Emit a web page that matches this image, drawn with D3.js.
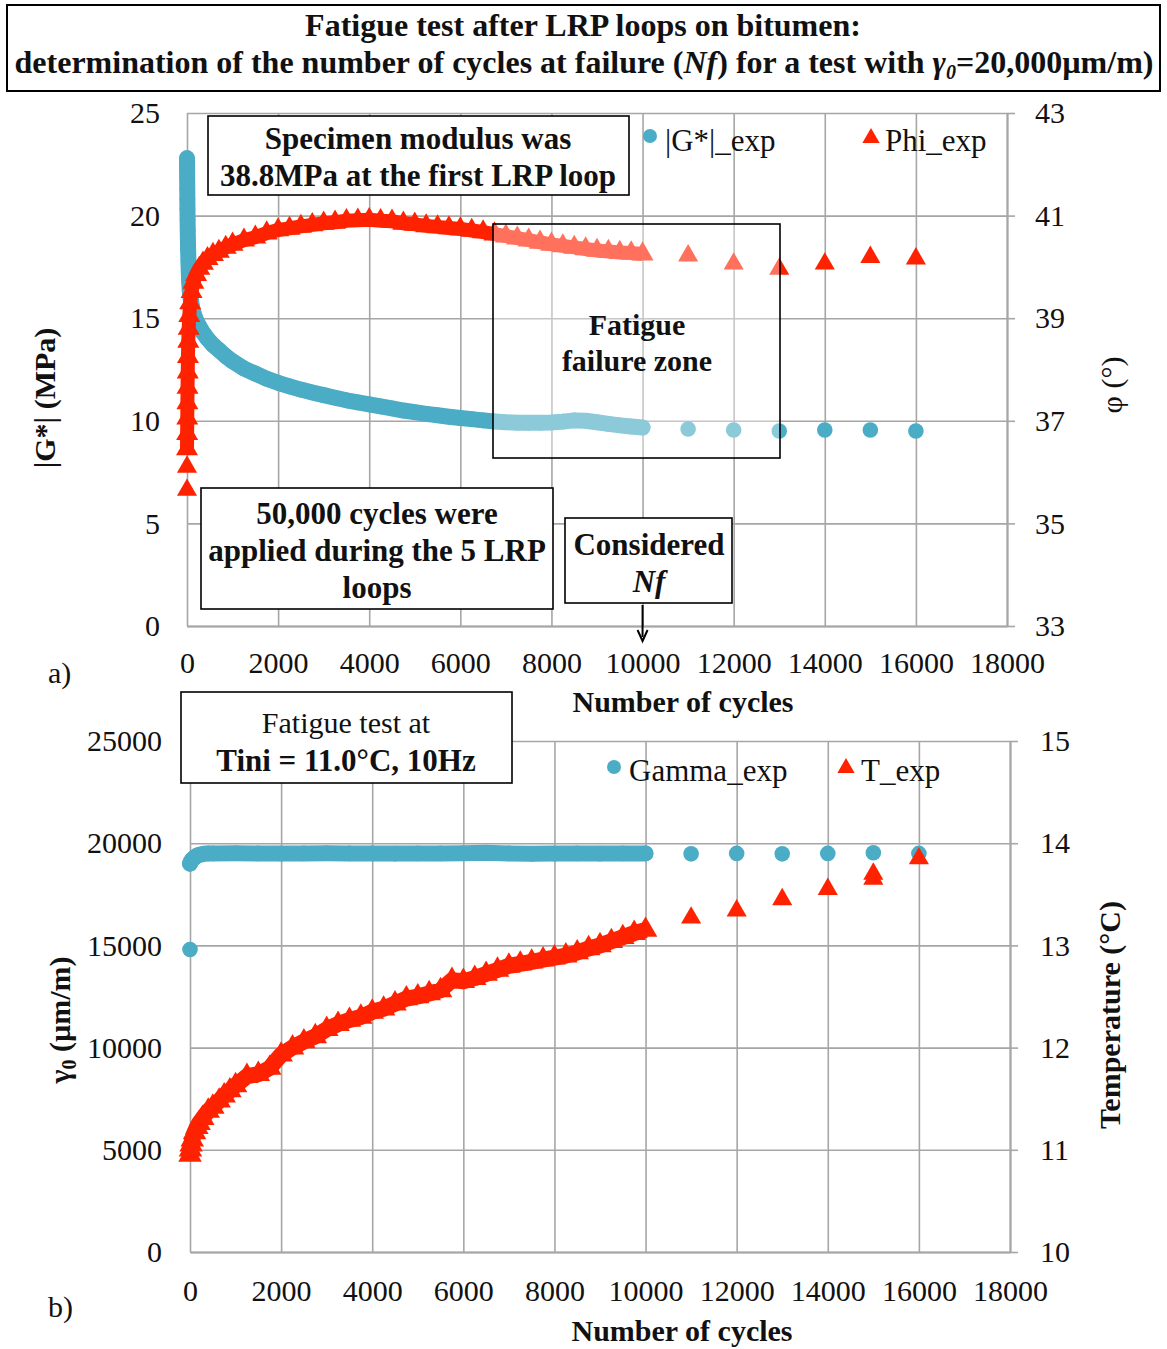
<!DOCTYPE html>
<html><head><meta charset="utf-8">
<script src="https://cdn.jsdelivr.net/npm/d3@7"></script>
<style>
body{margin:0;background:#fff}
svg{display:block}
text{font-family:"Liberation Serif","Times New Roman",serif;fill:#111}
</style>
</head><body>
<svg id="chart" width="1167" height="1349"></svg>
<script>
// ---------------- DATA ----------------
const xTicks = [0,2000,4000,6000,8000,10000,12000,14000,16000,18000];
const gTicks = [0,5,10,15,20,25];
const phiTicks = [33,35,37,39,41,43];
const gammaTicks = [0,5000,10000,15000,20000,25000];
const tempTicks = [10,11,12,13,14,15];

// (a) |G*| (MPa), dense recording up to Nf
const gCycles = [0,2,4,6,8,10,13,16,20,25,31,38,47,60,80,110,150,200,270,350,450,570,700,850,1000,1250,1500,1750,2000,2250,2500,2750,3000,3250,3500,3750,4000,4250,4500,4750,5000,5250,5500,5750,6000,6250,6500,6750,7000,7250,7500,7750,8000,8250,8500,8750,9000,9250,9500,9750,10000];
const gValues = [22.8,22.3,21.8,21.3,20.8,20.3,19.8,19.3,18.8,18.3,17.8,17.3,16.8,16.35,15.95,15.55,15.2,14.9,14.6,14.3,14.0,13.7,13.45,13.15,12.9,12.55,12.3,12.05,11.85,11.68,11.52,11.38,11.25,11.12,11.0,10.9,10.8,10.7,10.6,10.5,10.42,10.34,10.27,10.2,10.14,10.08,10.02,9.97,9.93,9.91,9.9,9.9,9.92,9.96,10.02,10.0,9.93,9.85,9.78,9.72,9.67];
// (a) |G*| sparse points after Nf
const gSparseCycles = [11000,12000,13000,14000,15000,16000];
const gSparseValues = [9.6,9.55,9.5,9.55,9.55,9.5];

// (a) Phi (deg), dense
const phiCycles = [0,3,6,9,12,16,21,28,37,50,70,100,140,200,270,350,450,570,700,850,1000,1250,1500,1750,2000,2250,2500,2750,3000,3250,3500,3750,4000,4250,4500,4750,5000,5250,5500,5750,6000,6250,6500,6750,7000,7250,7500,7750,8000,8250,8500,8750,9000,9250,9500,9750,10000];
const phiValues = [36.45,36.75,37.05,37.35,37.65,37.95,38.25,38.55,38.8,39.05,39.3,39.52,39.7,39.85,39.97,40.07,40.16,40.24,40.3,40.38,40.44,40.52,40.58,40.66,40.72,40.75,40.79,40.82,40.85,40.87,40.9,40.91,40.92,40.9,40.89,40.85,40.83,40.8,40.78,40.76,40.74,40.71,40.68,40.64,40.6,40.56,40.52,40.48,40.44,40.41,40.38,40.35,40.32,40.3,40.28,40.27,40.25];
const phiSparseCycles = [0,0,11000,12000,13000,14000,15000,16000];
const phiSparseValues = [36.1,35.65,40.22,40.06,39.96,40.06,40.19,40.16];

// (b) Gamma (µm/m), dense
const gammaCycles = [0,20,50,100,150,200,300,400,500,1000,1500,2000,2500,3000,3500,4000,4500,5000,5500,6000,6500,7000,7500,8000,8500,9000,9500,10000];
const gammaValues = [19000,19100,19200,19300,19380,19430,19480,19500,19500,19510,19500,19490,19500,19510,19500,19500,19490,19500,19500,19510,19530,19500,19480,19490,19500,19490,19500,19500];
const gammaSparseCycles = [0,11000,12000,13000,14000,15000,16000];
const gammaSparseValues = [14800,19480,19500,19480,19500,19530,19500];

// (b) Temperature (°C), dense
const tCycles = [0,10,25,50,100,150,200,280,400,500,640,750,875,1000,1250,1500,1750,2000,2250,2500,2750,3000,3250,3500,3750,4000,4250,4500,4750,5000,5250,5500,5750,6000,6250,6500,6750,7000,7250,7500,7750,8000,8250,8500,8750,9000,9250,9500,9750,10000];
const tValues = [10.95,11.0,11.05,11.1,11.17,11.22,11.26,11.31,11.38,11.42,11.48,11.53,11.58,11.63,11.72,11.74,11.8,11.93,12.0,12.06,12.11,12.18,12.23,12.27,12.3,12.35,12.38,12.43,12.48,12.5,12.53,12.56,12.66,12.65,12.68,12.72,12.76,12.8,12.82,12.84,12.86,12.88,12.9,12.93,12.97,13.0,13.04,13.08,13.12,13.15];
const tSparseCycles = [11000,12000,13000,14000,15000,15000,16000];
const tSparseValues = [13.27,13.34,13.45,13.55,13.65,13.7,13.85];

// ---------------- DRAWING ----------------
const BLUE = "#4BACC6", RED = "#FF2200", GRID = "#A6A6A6";
const svg = d3.select("#chart");

function makePanel(p) {
  const x = d3.scaleLinear().domain([0,18000]).range([p.x0,p.x1]);
  const yL = d3.scaleLinear().domain(p.leftDomain).range([p.yBot,p.yTop]);
  const yR = d3.scaleLinear().domain(p.rightDomain).range([p.yBot,p.yTop]);
  const g = svg.append("g");
  const la = g.append("g").attr("transform",`translate(${p.x0},0)`)
    .call(d3.axisLeft(yL).tickValues(p.leftTicks).tickSize(-(p.x1-p.x0)).tickPadding(p.leftPad).tickFormat(d3.format("d")));
  la.select(".domain").remove();
  const ba = g.append("g").attr("transform",`translate(0,${p.yBot})`)
    .call(d3.axisBottom(x).tickValues(xTicks).tickSize(-(p.yBot-p.yTop)).tickSizeOuter(0).tickPadding(p.bottomPad).tickFormat(d3.format("d")));
  const ra = g.append("g").attr("transform",`translate(${p.x1},0)`)
    .call(d3.axisRight(yR).tickValues(p.rightTicks).tickSize(8).tickSizeOuter(0).tickPadding(p.rightPad).tickFormat(d3.format("d")));
  [la,ba,ra].forEach(a=>{
    a.selectAll("line").attr("stroke",GRID).attr("stroke-width",1.6);
    a.selectAll(".domain").attr("stroke",GRID).attr("stroke-width",2);
    a.selectAll("text").attr("font-size",30).attr("fill","#111")
      .attr("font-family",'"Liberation Serif","Times New Roman",serif');
  });
  return {x,yL,yR,g};
}

function drawDense(g, x, y, cyc, val, color, shape, bandW, triSize) {
  const pts = d3.zip(cyc,val);
  g.append("path").datum(pts)
    .attr("d", d3.line().x(d=>x(d[0])).y(d=>y(d[1])))
    .attr("fill","none").attr("stroke",color).attr("stroke-width",bandW)
    .attr("stroke-linejoin","round").attr("stroke-linecap", shape==="circle"?"round":"butt");
  drawMarkers(g,x,y,cyc,val,color,shape,triSize);
}
function drawMarkers(g, x, y, cyc, val, color, shape, triSize) {
  const pts = d3.zip(cyc,val);
  if (shape==="circle") {
    g.selectAll(null).data(pts).enter().append("circle")
      .attr("cx",d=>x(d[0])).attr("cy",d=>y(d[1])).attr("r",7.8).attr("fill",color);
  } else {
    const sym = d3.symbol().type(d3.symbolTriangle).size(triSize || 170);
    g.selectAll(null).data(pts).enter().append("path")
      .attr("d",sym).attr("transform",d=>`translate(${x(d[0])},${y(d[1])})`).attr("fill",color);
  }
}

// ----- Title -----
svg.append("rect").attr("x",7).attr("y",5).attr("width",1153).attr("height",86)
  .attr("fill","#fff").attr("stroke","#000").attr("stroke-width",2);
svg.append("text").attr("x",583).attr("y",36).attr("text-anchor","middle")
  .attr("font-size",32).attr("font-weight","bold").text("Fatigue test after LRP loops on bitumen:");
const t2 = svg.append("text").attr("x",584).attr("y",73).attr("text-anchor","middle")
  .attr("font-size",32).attr("font-weight","bold");
t2.append("tspan").text("determination of the number of cycles at failure (");
t2.append("tspan").attr("font-style","italic").text("Nf");
t2.append("tspan").text(") for a test with ");
t2.append("tspan").attr("font-style","italic").text("γ");
t2.append("tspan").attr("font-style","italic").attr("font-size",20).attr("dy",6).text("0");
t2.append("tspan").attr("dy",-6).text("=20,000µm/m)");

// ----- Panel a -----
const A = makePanel({x0:187,x1:1007,yTop:113,yBot:626,leftDomain:[0,25],rightDomain:[33,43],
  leftTicks:gTicks,rightTicks:phiTicks,leftPad:27,bottomPad:26,rightPad:20});
drawDense(A.g, A.x, A.yL, gCycles, gValues, BLUE, "circle", 16);
drawMarkers(A.g, A.x, A.yL, gSparseCycles, gSparseValues, BLUE, "circle");
drawDense(A.g, A.x, A.yR, phiCycles, phiValues, RED, "triangle", 14, 210);
drawMarkers(A.g, A.x, A.yR, phiSparseCycles, phiSparseValues, RED, "triangle", 175);

// fatigue failure zone (semi-transparent box)
svg.append("rect").attr("x",493).attr("y",224).attr("width",287).attr("height",234)
  .attr("fill","#fff").attr("fill-opacity",0.36).attr("stroke","#000").attr("stroke-width",1.6);
svg.append("text").attr("x",637).attr("y",335).attr("text-anchor","middle").attr("font-size",30).attr("font-weight","bold").text("Fatigue");
svg.append("text").attr("x",637).attr("y",371).attr("text-anchor","middle").attr("font-size",30).attr("font-weight","bold").text("failure zone");

// annotation boxes
function box(x,y,w,h){ svg.append("rect").attr("x",x).attr("y",y).attr("width",w).attr("height",h).attr("fill","#fff").attr("stroke","#000").attr("stroke-width",1.6); }
box(208,116,421,79);
svg.append("text").attr("x",418).attr("y",149).attr("text-anchor","middle").attr("font-size",31).attr("font-weight","bold").text("Specimen modulus was");
svg.append("text").attr("x",418).attr("y",186).attr("text-anchor","middle").attr("font-size",31).attr("font-weight","bold").text("38.8MPa at the first LRP loop");

box(201,488,352,121);
[["50,000 cycles were",524],["applied during the 5 LRP",561],["loops",598]].forEach(d=>{
  svg.append("text").attr("x",377).attr("y",d[1]).attr("text-anchor","middle").attr("font-size",31).attr("font-weight","bold").text(d[0]);
});
box(565,518,167,85);
svg.append("text").attr("x",649).attr("y",555).attr("text-anchor","middle").attr("font-size",31).attr("font-weight","bold").text("Considered");
svg.append("text").attr("x",649).attr("y",592).attr("text-anchor","middle").attr("font-size",31).attr("font-weight","bold").attr("font-style","italic").text("Nf");
// arrow to Nf
const ax = A.x(10000);
svg.append("line").attr("x1",ax).attr("x2",ax).attr("y1",605).attr("y2",637).attr("stroke","#000").attr("stroke-width",2);
svg.append("path").attr("d",`M${ax-5},${630} L${ax},${641} L${ax+5},${630}`).attr("fill","none").attr("stroke","#000").attr("stroke-width",2);

// legend a
svg.append("circle").attr("cx",650).attr("cy",136).attr("r",7).attr("fill",BLUE);
svg.append("text").attr("x",665).attr("y",151).attr("font-size",31).text("|G*|_exp");
svg.append("path").attr("d",d3.symbol().type(d3.symbolTriangle).size(130)).attr("transform","translate(871,138)").attr("fill",RED);
svg.append("text").attr("x",885).attr("y",151).attr("font-size",31).text("Phi_exp");

// axis titles a
svg.append("text").attr("transform","translate(55,398) rotate(-90)").attr("text-anchor","middle").attr("font-size",30).attr("font-weight","bold").text("|G*| (MPa)");
svg.append("text").attr("transform","translate(1122,385) rotate(-90)").attr("text-anchor","middle").attr("font-size",30).text("φ (°)");
svg.append("text").attr("x",683).attr("y",712).attr("text-anchor","middle").attr("font-size",30).attr("font-weight","bold").text("Number of cycles");
svg.append("text").attr("x",48).attr("y",683).attr("font-size",30).text("a)");

// ----- Panel b -----
const B = makePanel({x0:190,x1:1010,yTop:741,yBot:1252,leftDomain:[0,25000],rightDomain:[10,15],
  leftTicks:gammaTicks,rightTicks:tempTicks,leftPad:28,bottomPad:28,rightPad:22});
drawDense(B.g, B.x, B.yL, gammaCycles, gammaValues, BLUE, "circle", 16);
drawMarkers(B.g, B.x, B.yL, gammaSparseCycles, gammaSparseValues, BLUE, "circle");
drawDense(B.g, B.x, B.yR, tCycles, tValues, RED, "triangle", 16, 240);
drawMarkers(B.g, B.x, B.yR, tSparseCycles, tSparseValues, RED, "triangle", 175);

box(181,692,331,91);
svg.append("text").attr("x",346).attr("y",733).attr("text-anchor","middle").attr("font-size",30).text("Fatigue test at");
svg.append("text").attr("x",346).attr("y",771).attr("text-anchor","middle").attr("font-size",31).attr("font-weight","bold").text("Tini = 11.0°C, 10Hz");

// legend b
svg.append("circle").attr("cx",614).attr("cy",767).attr("r",7).attr("fill",BLUE);
svg.append("text").attr("x",629).attr("y",781).attr("font-size",31).text("Gamma_exp");
svg.append("path").attr("d",d3.symbol().type(d3.symbolTriangle).size(130)).attr("transform","translate(846,768)").attr("fill",RED);
svg.append("text").attr("x",861).attr("y",781).attr("font-size",31).text("T_exp");

// axis titles b
const gy = svg.append("text").attr("transform","translate(70,1020) rotate(-90)").attr("text-anchor","middle").attr("font-size",30).attr("font-weight","bold");
gy.append("tspan").text("γ");
gy.append("tspan").attr("font-size",20).attr("dy",6).text("0");
gy.append("tspan").attr("dy",-6).text(" (µm/m)");
svg.append("text").attr("transform","translate(1120,1015) rotate(-90)").attr("text-anchor","middle").attr("font-size",30).attr("font-weight","bold").text("Temperature (°C)");
svg.append("text").attr("x",682).attr("y",1341).attr("text-anchor","middle").attr("font-size",30).attr("font-weight","bold").text("Number of cycles");
svg.append("text").attr("x",48).attr("y",1317).attr("font-size",30).text("b)");
</script>
</body></html>
